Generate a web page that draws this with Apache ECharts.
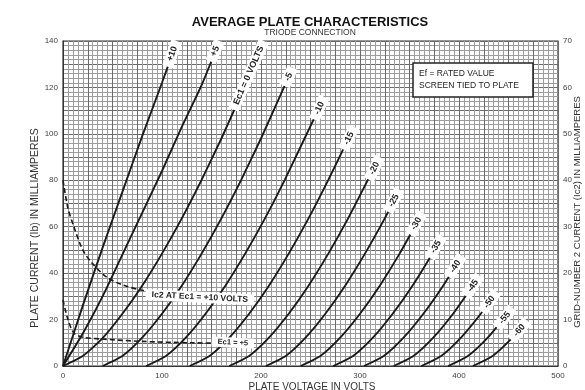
<!DOCTYPE html>
<html>
<head>
<meta charset="utf-8">
<script src="https://cdn.jsdelivr.net/npm/echarts@6/dist/echarts.min.js"></script>
<style>
  html, body { margin: 0; background: #fff; }
  #main { width: 585px; height: 390px; }
</style>
</head>
<body>
<div id="main"></div>
<script>
// plate current curves: [plate volts, plate mA], one per grid-1 voltage
const gridLabels = ['+10', '+5', 'Ec1 = 0 VOLTS', '-5', '-10', '-15', '-20', '-25', '-30', '-35', '-40', '-45', '-50', '-55', '-60'];
const plateCurves = [
  [[0, 0], [20, 26], [40, 51], [60, 75], [80, 99], [100, 122], [115, 140]],
  [[0, 0], [20, 14], [40, 30], [60, 48], [80, 66], [100, 84], [120, 103], [140, 121], [158, 140]],
  [[0, 0], [20, 4.3], [40, 12], [60, 22.5], [80, 34.6], [100, 48.4], [120, 63.6], [140, 80.2], [160, 98], [180, 117], [203, 140]],
  [[40, 0], [60, 4.3], [80, 12.2], [100, 22.5], [120, 34.6], [140, 48.4], [160, 63.6], [180, 80.2], [200, 98], [220, 117], [232, 128.5]],
  [[84, 0], [104, 4.3], [124, 12.2], [144, 22.5], [164, 34.6], [184, 48.4], [204, 63.6], [224, 80.2], [244, 98], [264, 116]],
  [[128, 0], [148, 4.3], [168, 12.2], [188, 22.5], [208, 34.6], [228, 48.4], [248, 63.6], [268, 80.2], [294, 103]],
  [[168, 0], [188, 4.3], [208, 12.2], [228, 22.5], [248, 34.6], [268, 48.4], [288, 63.6], [308, 80.2], [320, 90]],
  [[205, 0], [225, 4.3], [245, 12.2], [265, 22.5], [285, 34.6], [305, 48.4], [325, 63.6], [340, 76]],
  [[240, 0], [260, 4.3], [280, 12.2], [300, 22.5], [320, 34.6], [340, 48.4], [363, 66]],
  [[273, 0], [293, 4.3], [313, 12.2], [333, 22.5], [353, 34.6], [373, 48.4], [383, 56]],
  [[304, 0], [324, 4.3], [344, 12.2], [364, 22.5], [384, 34.6], [403, 47.5]],
  [[334, 0], [354, 4.3], [374, 12.2], [394, 22.5], [414, 34.6], [421, 39]],
  [[362, 0], [382, 4.3], [402, 12.2], [422, 22.5], [438, 32]],
  [[389, 0], [409, 4.3], [429, 12.2], [449, 22.5], [454, 25]],
  [[414, 0], [434, 4.3], [454, 12.2], [469, 19.5]]
];
// angle of each tag along its curve
const tagAngle = [70, 67, 66, 66, 66, 65, 64, 62, 61, 60, 58, 56, 55, 52, 50];

// grid-no.2 current (right axis, mA)
const ic2Labels = ['Ic2 AT Ec1 = +10 VOLTS', 'Ec1 = +5'];
const ic2Curves = [
  [[0, 40], [5, 34], [11, 30], [20, 25], [30, 22], [45, 19], [60, 17.5], [80, 16.3], [110, 15.5], [140, 15], [193, 14.2]],
  [[0, 14.2], [5, 10], [11, 7.1], [20, 6.2], [40, 5.8], [80, 5.3], [130, 5], [193, 4.8]]
];

const voltTicks = [0, 100, 200, 300, 400, 500];
const plateTicks = [0, 20, 40, 60, 80, 100, 120, 140];

const FONT = '"Liberation Sans", Arial, sans-serif';
const chart = echarts.init(document.getElementById('main'));

const tagStyle = (text, angle, size) => ({
  show: true,
  formatter: text,
  position: [0, 0],
  align: 'right',
  verticalAlign: 'middle',
  rotate: angle,
  fontFamily: FONT,
  fontSize: size,
  fontWeight: 'bold',
  color: '#222',
  backgroundColor: '#fff',
  padding: [1, 6, 1, 6]
});

const series = plateCurves.map((pts, k) => ({
  type: 'line',
  name: gridLabels[k],
  smooth: 0.2,
  symbol: 'circle',
  symbolSize: 0,
  z: 3,
  lineStyle: { color: '#1a1a1a', width: 1.9 },
  itemStyle: { color: '#1a1a1a' },
  data: pts.map((p, i) => i === pts.length - 1
    ? { value: p, label: tagStyle(gridLabels[k], tagAngle[k], 9) }
    : p)
}));

ic2Curves.forEach((pts, k) => {
  series.push({
    type: 'line',
    name: ic2Labels[k],
    yAxisIndex: 1,
    smooth: 0.3,
    symbol: 'circle',
    symbolSize: 0,
    z: 3,
    lineStyle: { color: '#1a1a1a', width: 1.6, type: [5, 3] },
    itemStyle: { color: '#1a1a1a' },
    data: pts.map((p, i) => i === pts.length - 1
      ? { value: p, label: tagStyle(ic2Labels[k], -3, k === 0 ? 8.5 : 7.5) }
      : p)
  });
});

const option = {
  animation: false,
  backgroundColor: '#fff',
  grid: { left: 63, right: 27, top: 41, bottom: 24, show: true, borderColor: '#333', borderWidth: 1.2 },
  xAxis: {
    type: 'value', min: 0, max: 500, interval: 25,
    axisLine: { lineStyle: { color: '#333' } },
    axisTick: { show: false },
    axisLabel: {
      fontFamily: FONT, fontSize: 8, color: '#444', margin: 6,
      formatter: v => voltTicks.includes(v) ? String(v) : ''
    },
    splitLine: { lineStyle: { color: '#6a6a6a', width: 1 } },
    minorTick: { show: false, splitNumber: 5 },
    minorSplitLine: { show: true, lineStyle: { color: '#9c9c9c', width: 1 } }
  },
  yAxis: [{
    type: 'value', min: 0, max: 140, interval: 10,
    axisLine: { show: true, lineStyle: { color: '#333' } },
    axisTick: { show: false },
    axisLabel: {
      fontFamily: FONT, fontSize: 8, color: '#444', margin: 5,
      formatter: v => plateTicks.includes(v) ? String(v) : ''
    },
    splitLine: { lineStyle: { color: '#6a6a6a', width: 1 } },
    minorTick: { show: false, splitNumber: 5 },
    minorSplitLine: { show: true, lineStyle: { color: '#9c9c9c', width: 1 } }
  }, {
    type: 'value', min: 0, max: 70, interval: 10, position: 'right',
    axisLine: { show: false },
    axisTick: { show: false },
    splitLine: { show: false },
    axisLabel: { fontFamily: FONT, fontSize: 8, color: '#444', margin: 5 }
  }],
  graphic: [
    { type: 'text', x: 310, y: 22, z: 100, style: { text: 'AVERAGE PLATE CHARACTERISTICS', font: 'bold 13px ' + FONT, fill: '#111', textAlign: 'center', textVerticalAlign: 'middle' } },
    { type: 'text', x: 310, y: 33, z: 100, style: { text: 'TRIODE CONNECTION', font: '8.5px ' + FONT, fill: '#333', textAlign: 'center', textVerticalAlign: 'middle' } },
    { type: 'text', x: 35, y: 228, rotation: Math.PI / 2, z: 100, style: { text: 'PLATE CURRENT (Ib) IN MILLIAMPERES', font: '10.5px ' + FONT, fill: '#333', textAlign: 'center', textVerticalAlign: 'middle' } },
    { type: 'text', x: 577, y: 212, rotation: Math.PI / 2, z: 100, style: { text: 'GRID-NUMBER 2 CURRENT (Ic2) IN MILLIAMPERES', font: '9.5px ' + FONT, fill: '#333', textAlign: 'center', textVerticalAlign: 'middle' } },
    { type: 'text', x: 312, y: 387, z: 100, style: { text: 'PLATE VOLTAGE IN VOLTS', font: '10px ' + FONT, fill: '#333', textAlign: 'center', textVerticalAlign: 'middle' } },
    { type: 'rect', z: 100, shape: { x: 413, y: 63, width: 120, height: 34 }, style: { fill: '#fff', stroke: '#222', lineWidth: 1.5 } },
    { type: 'text', x: 419, y: 74, z: 101, style: { text: 'Ef = RATED VALUE', font: '8.5px ' + FONT, fill: '#222', textVerticalAlign: 'middle' } },
    { type: 'text', x: 419, y: 86, z: 101, style: { text: 'SCREEN TIED TO PLATE', font: '8.5px ' + FONT, fill: '#222', textVerticalAlign: 'middle' } }
  ],
  series: series
};

chart.setOption(option);
</script>
</body>
</html>
